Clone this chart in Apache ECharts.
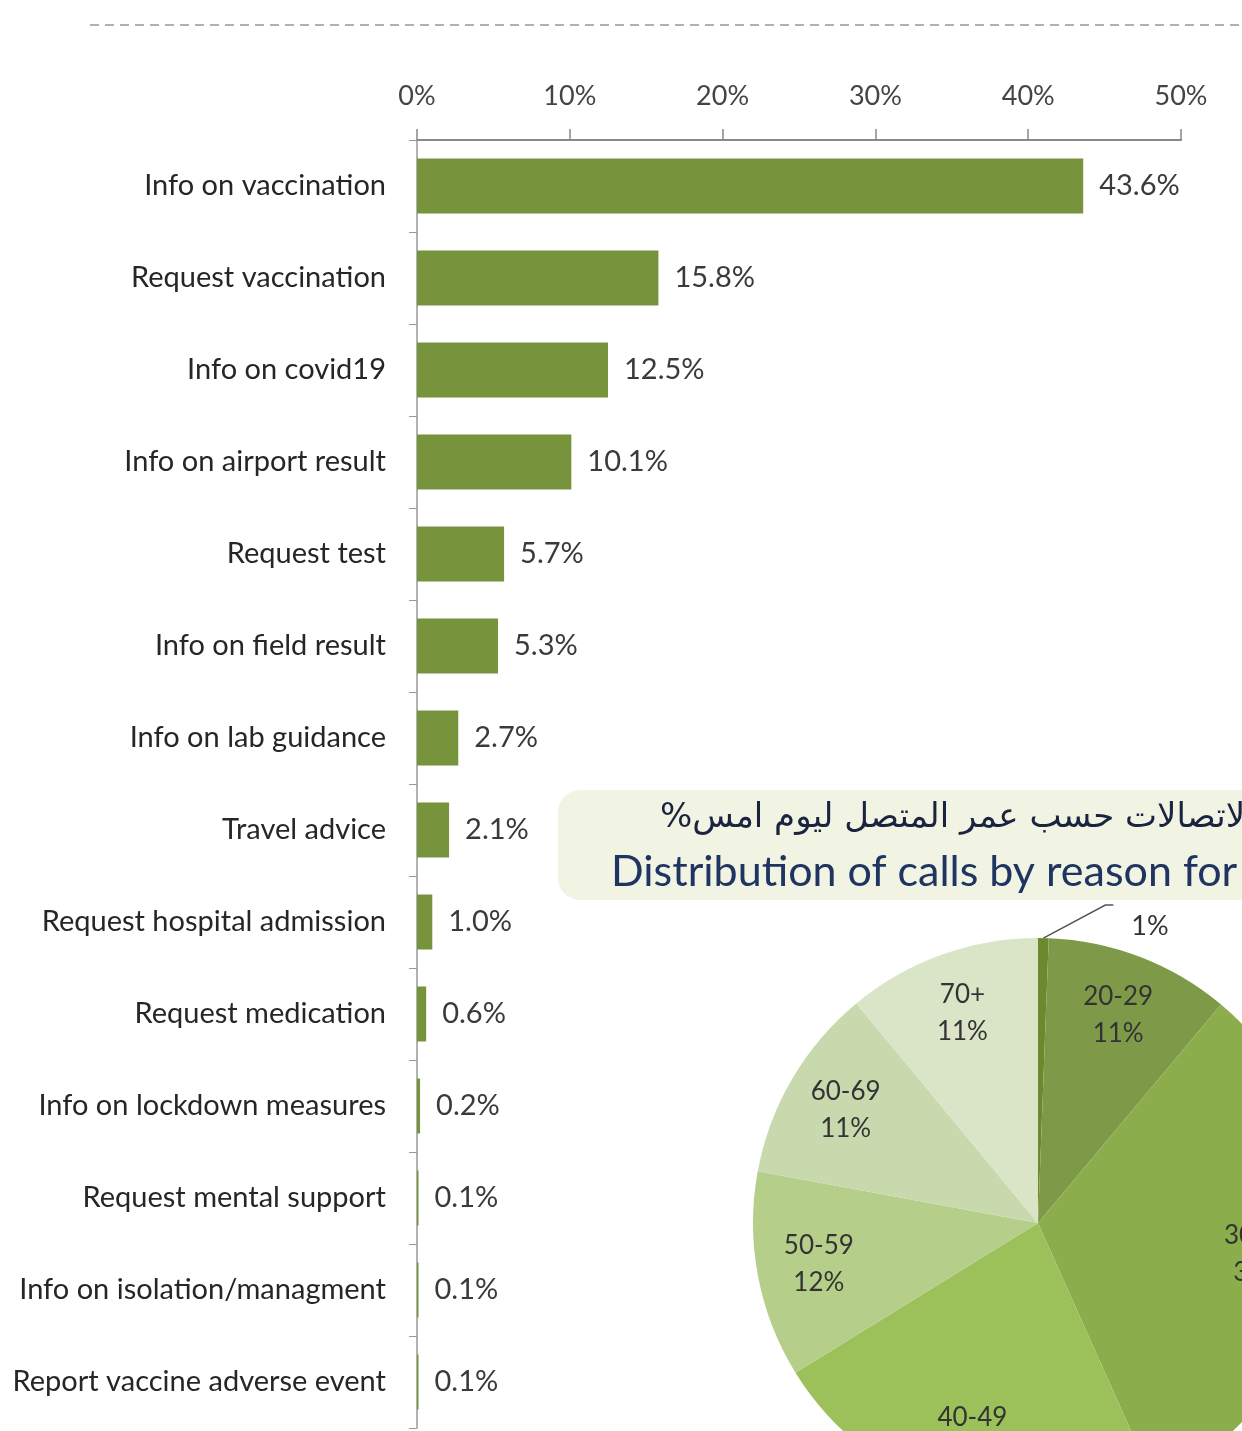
<!DOCTYPE html>
<html>
<head>
<meta charset="utf-8">
<script src="https://cdn.jsdelivr.net/npm/echarts@6/dist/echarts.min.js"></script>
<style>
html,body{margin:0;padding:0;background:#fff;}
#main{width:1242px;height:1431px;}
</style>
</head>
<body>
<div id="main"></div>
<script>
// ---- data ----
const reasons = [
  'Info on vaccination','Request vaccination','Info on covid19','Info on airport result',
  'Request test','Info on field result','Info on lab guidance','Travel advice',
  'Request hospital admission','Request medication','Info on lockdown measures',
  'Request mental support','Info on isolation/managment','Report vaccine adverse event'
];
const reasonShares = [43.6, 15.8, 12.5, 10.1, 5.7, 5.3, 2.7, 2.1, 1.0, 0.6, 0.2, 0.1, 0.1, 0.1];
const axisTicks = [0, 10, 20, 30, 40, 50];
const ageGroups = ['0-19', '20-29', '30-39', '40-49', '50-59', '60-69', '70+'];
const ageShares = [0.6, 10.5, 32.2, 22.9, 11.7, 11.1, 11.0];
const ageColors = ['#6b8a2e', '#7e9a48', '#8bad4b', '#9dc15a', '#b5cf8a', '#c8d9ae', '#dae5c8'];
const titleAr = '%الاتصالات حسب عمر المتصل ليوم امس';
const titleEn = 'Distribution of calls by reason for';

const FONT = 'Lato, "Open Sans", sans-serif';
const chart = echarts.init(document.getElementById('main'), null, {renderer: 'canvas'});

const pct = v => Math.round(v) + '%';

const pieMain = ageGroups.map((g, i) => ({
  name: g, value: ageShares[i],
  itemStyle: {color: ageColors[i]},
  label: i === 0 ? {show: true, position: 'outside', formatter: p => pct(p.value), fontSize: 27,
                    color: '#333', fontFamily: FONT, align: 'center', verticalAlign: 'middle'}
                 : {show: false},
  labelLine: i === 0 ? {show: true, length: 30, length2: 12, lineStyle: {color: '#555', width: 1.5}} : {show: false}
}));
const pieLabels = ageGroups.map((g, i) => ({
  name: g, value: ageShares[i],
  itemStyle: {color: 'rgba(0,0,0,0)'},
  label: {show: i !== 0}
}));

const option = {
  animation: false,
  backgroundColor: '#fff',
  grid: {left: 417, top: 140, width: 764, height: 1288, containLabel: false},
  xAxis: {
    type: 'value', position: 'top', min: 0, max: 50, interval: 10,
    axisLine: {show: true, lineStyle: {color: '#888', width: 2}},
    axisTick: {show: true, length: 11, lineStyle: {color: '#888', width: 1.5}},
    splitLine: {show: false},
    axisLabel: {
      margin: 30, fontSize: 27, color: '#444', fontFamily: FONT,
      formatter: v => axisTicks.includes(v) ? v + '%' : ''
    }
  },
  yAxis: {
    type: 'category', inverse: true, data: reasons,
    axisLine: {show: true, lineStyle: {color: '#999', width: 1.5}},
    axisTick: {show: true, length: 8, lineStyle: {color: '#999'}},
    axisLabel: {margin: 31, fontSize: 29, color: '#262626', fontFamily: FONT}
  },
  series: [
    {
      type: 'bar', data: reasonShares, barWidth: 55,
      itemStyle: {color: '#77933c'},
      label: {
        show: true, position: 'right', distance: 16, fontSize: 29, color: '#3a3a3a', fontFamily: FONT,
        formatter: p => p.value.toFixed(1) + '%'
      }
    },
    {
      type: 'pie', center: [1038, 1223], radius: [0, 285], startAngle: 90, clockwise: true,
      data: pieMain, silent: true, z: 5,
      labelLayout: function (params) {
        if (params.dataIndex !== 0 || !params.labelLinePoints) return {};
        const p0 = params.labelLinePoints[0];
        return {
          x: p0[0] + 88, y: p0[1] - 12,
          labelLinePoints: [p0, [p0[0] + 62, p0[1] - 33], [p0[0] + 70, p0[1] - 33]]
        };
      }
    },
    {
      type: 'pie', center: [1038, 1223], radius: [155, 285], startAngle: 90, clockwise: true,
      data: pieLabels, silent: true, z: 6,
      label: {
        position: 'inside', formatter: p => p.name + '\n' + pct(p.value), fontSize: 26, lineHeight: 37,
        color: '#333', fontFamily: FONT
      },
      labelLine: {show: false}
    }
  ],
  graphic: [
    {type: 'line', shape: {x1: 90, y1: 25, x2: 1242, y2: 25},
     style: {stroke: '#b0b0b0', lineWidth: 2, lineDash: [9, 6]}},
    {type: 'rect', shape: {x: 558, y: 790, width: 740, height: 110, r: 22},
     style: {fill: '#f2f4e3'}, z: 1},
    {type: 'text', x: 660, y: 818, z: 2,
     style: {text: titleAr, fontSize: 34, fill: '#1a2340', fontFamily: '"DejaVu Sans", sans-serif',
             textAlign: 'left', textVerticalAlign: 'middle'}},
    {type: 'text', x: 611, y: 872, z: 2,
     style: {text: titleEn, fontSize: 43, fill: '#1f3460', fontFamily: FONT,
             textAlign: 'left', textVerticalAlign: 'middle'}}
  ]
};
chart.setOption(option);
</script>
</body>
</html>
